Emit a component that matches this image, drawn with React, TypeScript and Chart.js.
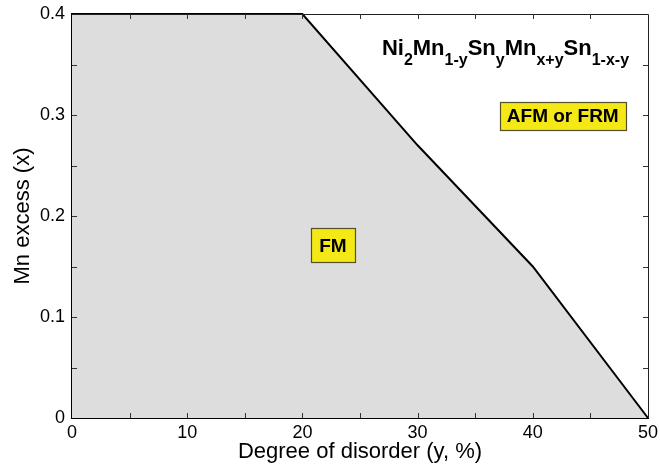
import React, { useEffect, useRef } from "react";
import { Chart, registerables } from "chart.js";

Chart.register(...registerables);

// ---- data ----
const DISORDER = [0, 20, 30, 40, 50];
const MN_EXCESS = [0.4, 0.4, 0.27, 0.15, 0];
const X_TICKS = [0, 10, 20, 30, 40, 50];
const Y_TICKS = [0, 0.1, 0.2, 0.3, 0.4];
const X_MINOR = [5, 15, 25, 35, 45];
const Y_MINOR = [0.05, 0.15, 0.25, 0.35];
const REGION_TEXT = ["FM", "AFM or FRM"];
const FORMULA_PARTS = ["Ni", "2", "Mn", "1-y", "Sn", "y", "Mn", "x+y", "Sn", "1-x-y"];
const X_TITLE = "Degree of disorder (y, %)";
const Y_TITLE = "Mn excess (x)";

// ---- drawing layout (data-unit anchors) ----
const FONT = "'Liberation Sans', Arial, Helvetica, sans-serif";
const REGION_BOXES = [
  { x: 22.65, y: 0.171, w: 44, h: 34 },
  { x: 42.6, y: 0.299, w: 126, h: 28 },
];
const FORMULA_ANCHOR = { x: 26.9, y: 0.3594 };

const overlayPlugin = {
  id: "overlay",
  afterDatasetsDraw(chart: any) {
    const { ctx, chartArea } = chart;
    const xs = chart.scales.x;
    const ys = chart.scales.y;
    ctx.save();
    // top & right thin frame
    ctx.strokeStyle = "#222";
    ctx.lineWidth = 1;
    ctx.beginPath();
    ctx.moveTo(chartArea.left, chartArea.top + 0.5);
    ctx.lineTo(chartArea.right + 0.5, chartArea.top + 0.5);
    ctx.lineTo(chartArea.right + 0.5, chartArea.bottom);
    ctx.stroke();

    // inner ticks on all four sides
    const tl = 5;
    ctx.strokeStyle = "#333";
    ctx.beginPath();
    [...X_TICKS, ...X_MINOR].forEach((v) => {
      if (v <= xs.min || v >= xs.max) return;
      const px = Math.round(xs.getPixelForValue(v)) + 0.5;
      ctx.moveTo(px, chartArea.bottom);
      ctx.lineTo(px, chartArea.bottom - tl);
      ctx.moveTo(px, chartArea.top);
      ctx.lineTo(px, chartArea.top + tl);
    });
    [...Y_TICKS, ...Y_MINOR].forEach((v) => {
      if (v <= ys.min || v >= ys.max) return;
      const py = Math.round(ys.getPixelForValue(v)) + 0.5;
      ctx.moveTo(chartArea.left, py);
      ctx.lineTo(chartArea.left + tl, py);
      ctx.moveTo(chartArea.right, py);
      ctx.lineTo(chartArea.right - tl, py);
    });
    ctx.stroke();

    // region label boxes
    REGION_TEXT.forEach((t, i) => {
      const b = REGION_BOXES[i];
      const cx = xs.getPixelForValue(b.x);
      const cy = ys.getPixelForValue(b.y);
      const x0 = Math.round(cx - b.w / 2) + 0.5;
      const y0 = Math.round(cy - b.h / 2) + 0.5;
      ctx.fillStyle = "#f4e817";
      ctx.fillRect(x0, y0, b.w, b.h);
      ctx.strokeStyle = "#55502a";
      ctx.lineWidth = 1.2;
      ctx.strokeRect(x0, y0, b.w, b.h);
      ctx.fillStyle = "#000";
      ctx.font = `bold 19px ${FONT}`;
      ctx.textAlign = "center";
      ctx.textBaseline = "middle";
      ctx.fillText(t, cx, cy + 1);
    });

    // formula
    let fx = xs.getPixelForValue(FORMULA_ANCHOR.x);
    const fy = ys.getPixelForValue(FORMULA_ANCHOR.y);
    ctx.textAlign = "left";
    ctx.textBaseline = "alphabetic";
    ctx.fillStyle = "#000";
    FORMULA_PARTS.forEach((p, i) => {
      const sub = i % 2 === 1;
      ctx.font = sub ? `bold 16px ${FONT}` : `bold 22px ${FONT}`;
      ctx.fillText(p, fx, sub ? fy + 10 : fy);
      fx += ctx.measureText(p).width;
    });
    ctx.restore();
  },
};

export default function App() {
  const ref = useRef<HTMLCanvasElement>(null);
  useEffect(() => {
    document.body.style.margin = "0";
    const chart = new Chart(ref.current as HTMLCanvasElement, {
      type: "scatter",
      data: {
        datasets: [
          {
            data: DISORDER.map((x, i) => ({ x, y: MN_EXCESS[i] })),
            showLine: true,
            fill: "origin",
            backgroundColor: "rgb(221,221,221)",
            borderColor: "#000",
            borderWidth: 2,
            pointRadius: 0,
            tension: 0,
            clip: false,
          } as any,
        ],
      },
      options: {
        animation: false,
        responsive: false,
        layout: { padding: { top: 14, right: 12, left: 0, bottom: 0 } },
        plugins: { legend: { display: false }, tooltip: { enabled: false } },
        scales: {
          x: {
            type: "linear",
            min: 0,
            max: 50,
            afterFit: (s: any) => {
              s.height = 52;
              s.paddingLeft = 0;
              s.paddingRight = 0;
            },
            afterBuildTicks: (s: any) => {
              s.ticks = X_TICKS.map((v) => ({ value: v }));
            },
            grid: { display: false, drawTicks: false, tickLength: 0 },
            border: { display: true, color: "#000", width: 2 },
            ticks: {
              color: "#000",
              font: { family: FONT, size: 18 },
              padding: 4,
              maxRotation: 0,
              autoSkip: false,
              callback: (v: any) => String(v),
            },
            title: {
              display: true,
              text: X_TITLE,
              color: "#000",
              font: { family: FONT, size: 22 },
              padding: { top: 0, bottom: 5 },
            },
          },
          y: {
            type: "linear",
            min: 0,
            max: 0.4,
            afterFit: (s: any) => {
              s.width = 72;
              s.paddingTop = 0;
              s.paddingBottom = 0;
            },
            afterBuildTicks: (s: any) => {
              s.ticks = Y_TICKS.map((v) => ({ value: v }));
            },
            grid: { display: false, drawTicks: false, tickLength: 0 },
            border: { display: true, color: "#000", width: 2 },
            ticks: {
              color: "#000",
              font: { family: FONT, size: 18 },
              padding: 7,
              autoSkip: false,
              callback: (v: any) => String(Math.round(Number(v) * 10) / 10),
            },
            title: {
              display: true,
              text: Y_TITLE,
              color: "#000",
              font: { family: FONT, size: 22 },
              padding: { top: 10, bottom: 0 },
            },
          },
        },
      },
      plugins: [overlayPlugin],
    });
    return () => chart.destroy();
  }, []);
  return (
    <div style={{ position: "fixed", left: 0, top: 0, width: 660, height: 470, background: "#fff" }}>
      <canvas ref={ref} width={660} height={470} />
    </div>
  );
}
